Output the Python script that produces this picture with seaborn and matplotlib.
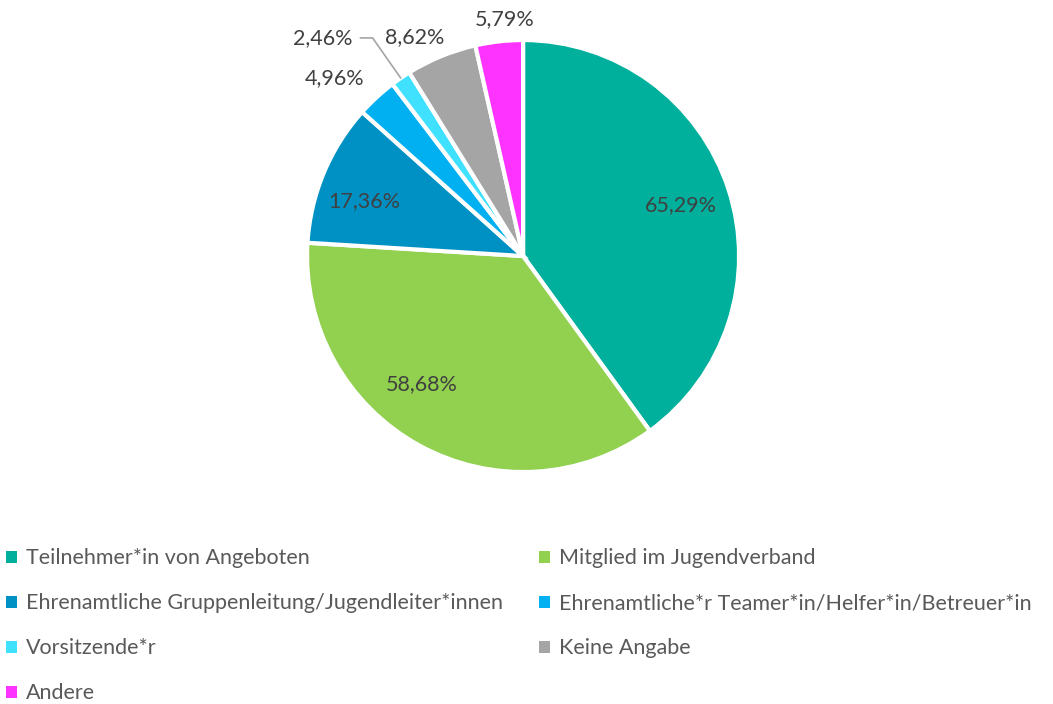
import matplotlib
matplotlib.use("Agg")
import matplotlib.pyplot as plt
from matplotlib.patches import Patch
import numpy as np
import seaborn as sns

KATEGORIEN = [
    "Teilnehmer*in von Angeboten",
    "Mitglied im Jugendverband",
    "Ehrenamtliche Gruppenleitung/Jugendleiter*innen",
    "Ehrenamtliche*r Teamer*in/Helfer*in/Betreuer*in",
    "Vorsitzende*r",
    "Keine Angabe",
    "Andere",
]
WERTE = [65.29, 58.68, 17.36, 4.96, 2.46, 8.62, 5.79]
FARBEN = ["#00B09C", "#92D050", "#0091C4", "#00B0F0", "#40E0FF", "#A5A5A5", "#FF33FF"]

sns.set_theme(style="white")
plt.rcParams["font.family"] = ["Lato", "DejaVu Sans"]

palette = sns.color_palette(FARBEN)

fig = plt.figure(figsize=(10.53, 7.04), dpi=100)
ax = fig.add_axes([0.2916, 0.3295, 0.4103, 0.6136])

wedges, _ = ax.pie(WERTE, colors=palette, startangle=90, counterclock=False,
                   wedgeprops=dict(edgecolor="white", linewidth=3))
ax.set_xlim(-1, 1)
ax.set_ylim(-1, 1)
ax.set_aspect("equal")
ax.axis("off")

# Abstand der Beschriftung vom Mittelpunkt (in Radien) + kleine Winkelkorrektur
abstand = [0.77, 0.755, 0.78, 1.2, 1.37, 1.13, 1.10]
winkel_korr = [0, -9.7, 3.6, 4, 8, 4, -2]
textfarbe = "#404040"
fs = 15.5

for i, (w, v) in enumerate(zip(wedges, WERTE)):
    mitte = (w.theta1 + w.theta2) / 2 + winkel_korr[i]
    x = abstand[i] * np.cos(np.radians(mitte))
    y = abstand[i] * np.sin(np.radians(mitte))
    txt = f"{v:.2f}%".replace(".", ",")
    if i == 4:
        rand = np.radians((w.theta1 + w.theta2) / 2)
        ax.annotate(txt, xy=(1.0 * np.cos(rand), 1.0 * np.sin(rand)), xytext=(x, y),
                    ha="center", va="center", fontsize=fs, color=textfarbe,
                    arrowprops=dict(arrowstyle="-", color="#A5A5A5", lw=1.2,
                                    shrinkA=3, shrinkB=0,
                                    connectionstyle="angle,angleA=0,angleB=-55,rad=0",
                                    relpos=(1.0, 0.5)))
    else:
        ax.text(x, y, txt, ha="center", va="center", fontsize=fs, color=textfarbe)

handles = [Patch(facecolor=palette[i], edgecolor="none") for i in range(len(KATEGORIEN))]
# Reihenfolge zeilenweise in zwei Spalten (matplotlib füllt spaltenweise)
order = [0, 2, 4, 6, 1, 3, 5]
leg = fig.legend([handles[i] for i in order], [KATEGORIEN[i] for i in order],
                 loc="upper left", bbox_to_anchor=(0.006, 0.221), ncol=2,
                 frameon=False, fontsize=15.5, handlelength=0.5, handleheight=0.5,
                 handletextpad=0.4, labelspacing=1.16, columnspacing=1.7,
                 borderaxespad=0, borderpad=0)
for t in leg.get_texts():
    t.set_color("#595959")

fig.savefig("out.png", dpi=100)
